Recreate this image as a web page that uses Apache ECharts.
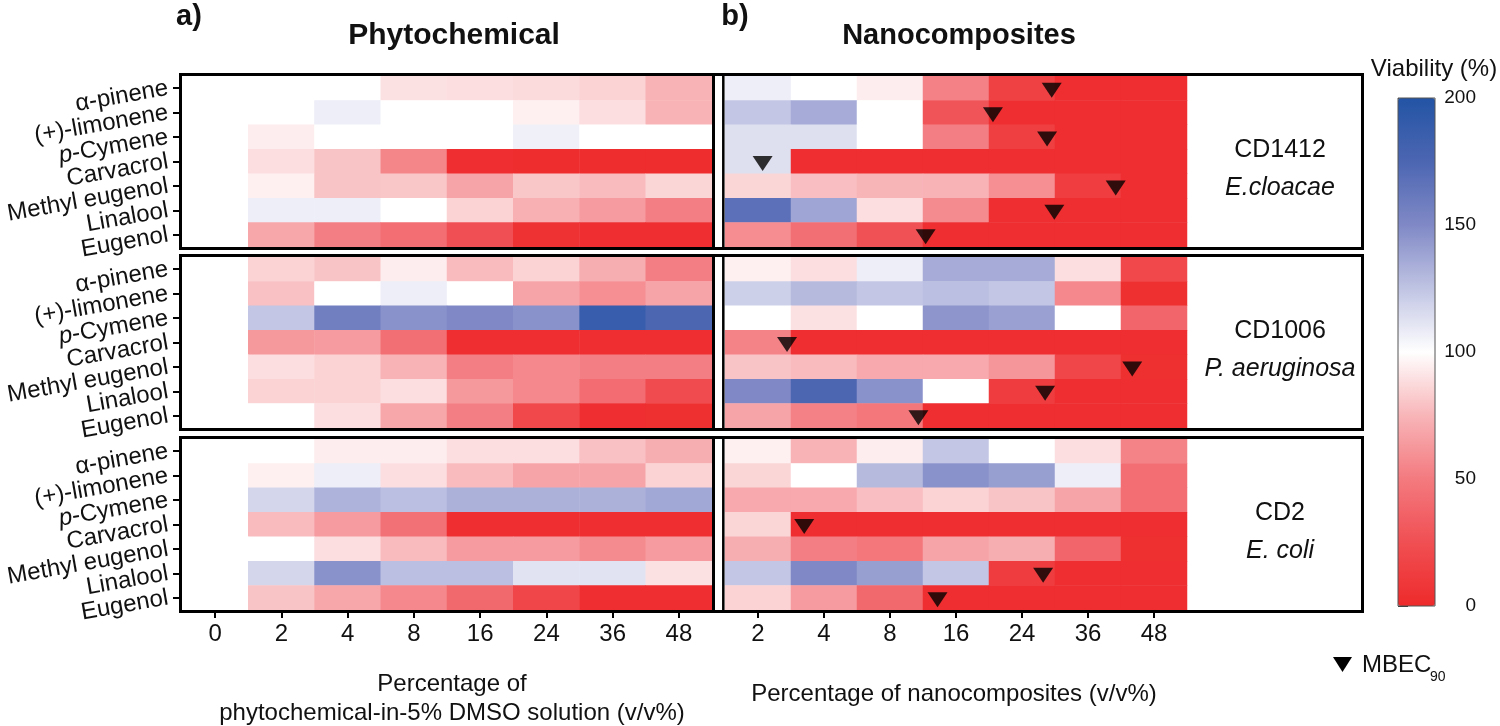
<!DOCTYPE html>
<html>
<head>
<meta charset="utf-8">
<script src="https://cdn.jsdelivr.net/npm/echarts@6/dist/echarts.min.js"></script>
<style>
  html, body { margin: 0; padding: 0; background: #fff; }
  #chart { width: 1500px; height: 726px; }
</style>
</head>
<body>
<div id="chart"></div>
<script>
// ---------------- DATA ----------------
const compounds = ['α-pinene', '(+)-limonene', 'p-Cymene', 'Carvacrol', 'Methyl eugenol', 'Linalool', 'Eugenol'];
const phytoConc = ['0', '2', '4', '8', '16', '24', '36', '48'];
const nanoConc = ['2', '4', '8', '16', '24', '36', '48'];
const viabilityTicks = [0, 50, 100, 150, 200];

// Viability (%) — rows follow `compounds`, columns follow the concentration list
const cd1412Phyto = [
  [100, 100, 100, 90, 89, 88, 85, 74],
  [100, 100, 107, 100, 100, 95, 89, 74],
  [100, 94, 100, 100, 100, 106, 100, 100],
  [100, 89, 80, 55, 3, 2, 2, 2],
  [100, 95, 80, 81, 68, 81, 77, 86],
  [100, 107, 107, 100, 85, 73, 64, 52],
  [100, 69, 52, 43, 25, 5, 3, 3]
];
const cd1412Nano = [
  [107, 100, 94, 53, 15, 3, 3],
  [124, 135, 100, 28, 3, 3, 3],
  [113, 113, 100, 52, 14, 3, 3],
  [113, 3, 3, 3, 3, 3, 3],
  [86, 78, 75, 74, 59, 13, 3],
  [168, 138, 89, 57, 3, 3, 3],
  [58, 44, 26, 3, 3, 3, 3]
];
const cd1006Phyto = [
  [100, 85, 80, 94, 77, 85, 72, 52],
  [100, 79, 100, 107, 100, 68, 59, 68],
  [100, 124, 157, 146, 150, 146, 187, 175],
  [100, 63, 64, 44, 3, 3, 3, 3],
  [100, 89, 85, 74, 52, 56, 52, 52],
  [100, 85, 85, 89, 63, 56, 42, 22],
  [100, 100, 89, 69, 52, 20, 3, 4]
];
const cd1006Nano = [
  [95, 89, 107, 135, 135, 89, 20],
  [120, 129, 124, 127, 124, 56, 4],
  [100, 90, 100, 145, 140, 100, 38],
  [54, 3, 3, 3, 3, 3, 3],
  [80, 77, 70, 70, 62, 19, 4],
  [150, 175, 146, 100, 12, 3, 3],
  [68, 53, 48, 3, 3, 3, 3]
];
const cd2Phyto = [
  [100, 100, 94, 94, 89, 89, 79, 72],
  [100, 95, 107, 89, 77, 68, 68, 85],
  [100, 117, 132, 127, 133, 133, 133, 137],
  [100, 77, 64, 45, 3, 3, 3, 3],
  [100, 100, 89, 77, 64, 64, 57, 64],
  [100, 117, 146, 127, 127, 112, 112, 90],
  [100, 80, 69, 56, 40, 19, 3, 3]
];
const cd2Nano = [
  [95, 74, 94, 124, 100, 89, 54],
  [86, 100, 129, 146, 141, 107, 43],
  [70, 70, 78, 85, 80, 68, 43],
  [86, 3, 3, 3, 3, 3, 3],
  [72, 52, 48, 68, 72, 38, 4],
  [124, 150, 141, 124, 12, 3, 3],
  [85, 64, 40, 3, 3, 3, 3]
];
// MBEC90 marker position along the nanocomposite concentration columns (column units, 0..7)
const cd1412Mbec = [4.95, 4.06, 4.88, 0.57, 5.92, 4.99, 3.04];
const cd1006Mbec = [null, null, null, 0.94, 6.17, 4.85, 2.93];
const cd2Mbec = [null, null, null, 1.2, null, 4.82, 3.22];

const strains = [['CD1412', 'E.cloacae'], ['CD1006', 'P. aeruginosa'], ['CD2', 'E. coli']];

// ---------------- LAYOUT / STYLE ----------------
const FONT = "'Liberation Sans', Arial, Helvetica, sans-serif";
const TXT = '#111';
const boxTops = [76, 257, 439];
const boxH = 171;
const leftX = 182, leftW = 530;
const rightX = 725, rightW = 462;
const boxRight = 1362.5;
const cbar = { x: 1398, y: 98, w: 37, h: 508 };
const cbarLabelRight = 1476;

const panels = [
  { phyto: cd1412Phyto, nano: cd1412Nano, mbec: cd1412Mbec },
  { phyto: cd1006Phyto, nano: cd1006Nano, mbec: cd1006Mbec },
  { phyto: cd2Phyto, nano: cd2Nano, mbec: cd2Mbec }
];

function toCells(m) {
  const out = [];
  m.forEach((row, r) => row.forEach((v, c) => out.push([c, r, v])));
  return out;
}
function toMarks(arr) {
  const out = [];
  arr.forEach((x, r) => { if (x != null) out.push([x, r]); });
  return out;
}

const grid = [], xAxis = [], yAxis = [], series = [], graphic = [];
const yLabel = {
  show: true, rotate: 10, margin: 14,
  formatter: v => v === 'p-Cymene' ? '{i|p}{n|-Cymene}' : '{n|' + v + '}',
  rich: {
    i: { fontStyle: 'italic', fontSize: 24, fontFamily: FONT, color: TXT },
    n: { fontSize: 24, fontFamily: FONT, color: TXT }
  }
};

boxTops.forEach(top => {
  grid.push({ left: leftX, top: top, width: leftW, height: boxH });
  grid.push({ left: rightX, top: top, width: rightW, height: boxH });
});
// colorbar axis grid
grid.push({ left: cbar.x, top: cbar.y, width: cbar.w, height: cbar.h });

const catX = (gi, data, showLabels) => ({
  type: 'category', gridIndex: gi, data: data,
  axisLine: { show: false },
  axisTick: { show: showLabels, alignWithLabel: true, length: 8, inside: false, lineStyle: { color: '#000', width: 2 } },
  axisLabel: { show: showLabels, fontSize: 24, fontFamily: FONT, color: TXT, margin: 12 },
  splitLine: { show: false }
});

for (let b = 0; b < 3; b++) {
  const showX = b === 2;
  xAxis.push(catX(2 * b, phytoConc, showX));
  xAxis.push(catX(2 * b + 1, nanoConc, showX));
  yAxis.push({
    type: 'category', gridIndex: 2 * b, data: compounds, inverse: true,
    axisLine: { show: false },
    axisTick: { show: true, alignWithLabel: true, length: 9, lineStyle: { color: '#000', width: 2 } },
    axisLabel: yLabel, splitLine: { show: false }
  });
  yAxis.push({
    type: 'category', gridIndex: 2 * b + 1, data: compounds, inverse: true,
    axisLine: { show: false }, axisTick: { show: false }, axisLabel: { show: false }, splitLine: { show: false }
  });
}
// value x-axes for MBEC markers on the right grids (indices 6,7,8)
for (let b = 0; b < 3; b++) {
  xAxis.push({ type: 'value', gridIndex: 2 * b + 1, min: 0, max: nanoConc.length, show: false });
}
// colorbar axes (ticks only; labels placed through the axis scale below)
xAxis.push({ type: 'value', gridIndex: 6, show: false, min: 0, max: 1 });
yAxis.push({
  type: 'value', gridIndex: 6, position: 'right', min: viabilityTicks[0], max: viabilityTicks[viabilityTicks.length - 1],
  interval: 50,
  axisLine: { show: false },
  axisTick: { show: true, length: 10, lineStyle: { color: '#333', width: 1 } },
  axisLabel: { show: false },
  splitLine: { show: false }
});

panels.forEach((p, b) => {
  series.push({
    type: 'heatmap', xAxisIndex: 2 * b, yAxisIndex: 2 * b, data: toCells(p.phyto),
    itemStyle: { borderWidth: 0 }, emphasis: { disabled: true }, progressive: 0
  });
  series.push({
    type: 'heatmap', xAxisIndex: 2 * b + 1, yAxisIndex: 2 * b + 1, data: toCells(p.nano),
    itemStyle: { borderWidth: 0 }, emphasis: { disabled: true }, progressive: 0
  });
});
panels.forEach((p, b) => {
  series.push({
    type: 'scatter', xAxisIndex: 6 + b, yAxisIndex: 2 * b + 1, data: toMarks(p.mbec),
    symbol: 'path://M0,0L20,0L10,15Z', symbolSize: [20, 15], symbolOffset: [0, 2],
    itemStyle: { color: '#000' }, z: 5, silent: true
  });
});

// boxes + dividers
boxTops.forEach((top, b) => {
  graphic.push({
    type: 'rect', z: 100, silent: true,
    shape: { x: leftX - 1.5, y: top - 1.5, width: boxRight - (leftX - 1.5), height: boxH + 3 },
    style: { fill: 'none', stroke: '#000', lineWidth: 3 }
  });
  graphic.push({
    type: 'line', z: 100, silent: true,
    shape: { x1: 713.5, y1: top - 1.5, x2: 713.5, y2: top + boxH + 1.5 },
    style: { stroke: '#000', lineWidth: 3 }
  });
  graphic.push({
    type: 'line', z: 100, silent: true,
    shape: { x1: 723.3, y1: top - 1.5, x2: 723.3, y2: top + boxH + 1.5 },
    style: { stroke: '#000', lineWidth: 2.5 }
  });
  const mid = top + boxH / 2;
  graphic.push({ type: 'text', z: 100, x: 1280, y: mid - 11, style: { text: strains[b][0], font: '25px ' + FONT, fill: TXT, align: 'center', verticalAlign: 'middle' } });
  graphic.push({ type: 'text', z: 100, x: 1280, y: mid + 27, style: { text: strains[b][1], font: 'italic 25px ' + FONT, fill: TXT, align: 'center', verticalAlign: 'middle' } });
});
// colorbar border
graphic.push({ type: 'rect', z: 100, silent: true, shape: { x: cbar.x, y: cbar.y, width: cbar.w, height: cbar.h }, style: { fill: 'none', stroke: '#555', lineWidth: 1 } });
// titles
graphic.push({ type: 'text', z: 100, x: 189, y: 17, style: { text: 'a)', font: 'bold 29px ' + FONT, fill: TXT, align: 'center', verticalAlign: 'middle' } });
graphic.push({ type: 'text', z: 100, x: 735, y: 17, style: { text: 'b)', font: 'bold 29px ' + FONT, fill: TXT, align: 'center', verticalAlign: 'middle' } });
graphic.push({ type: 'text', z: 100, x: 454, y: 36, style: { text: 'Phytochemical', font: 'bold 30px ' + FONT, fill: TXT, align: 'center', verticalAlign: 'middle' } });
graphic.push({ type: 'text', z: 100, x: 959, y: 36, style: { text: 'Nanocomposites', font: 'bold 29px ' + FONT, fill: TXT, align: 'center', verticalAlign: 'middle' } });
// axis titles
graphic.push({ type: 'text', z: 100, x: 452, y: 684, style: { text: 'Percentage of', font: '24px ' + FONT, fill: TXT, align: 'center', verticalAlign: 'middle' } });
graphic.push({ type: 'text', z: 100, x: 452, y: 713, style: { text: 'phytochemical-in-5% DMSO solution (v/v%)', font: '24px ' + FONT, fill: TXT, align: 'center', verticalAlign: 'middle' } });
graphic.push({ type: 'text', z: 100, x: 954, y: 694, style: { text: 'Percentage of nanocomposites (v/v%)', font: '24px ' + FONT, fill: TXT, align: 'center', verticalAlign: 'middle' } });
// colorbar title
graphic.push({ type: 'text', z: 100, x: 1434, y: 69, style: { text: 'Viability (%)', font: '24px ' + FONT, fill: TXT, align: 'center', verticalAlign: 'middle' } });
// MBEC legend
graphic.push({ type: 'polygon', z: 100, silent: true, shape: { points: [[1333, 657], [1352, 657], [1342.5, 672]] }, style: { fill: '#000' } });
graphic.push({ type: 'text', z: 100, x: 1362, y: 665, style: { text: 'MBEC', font: '24px ' + FONT, fill: TXT, align: 'left', verticalAlign: 'middle' } });
graphic.push({ type: 'text', z: 100, x: 1430, y: 677, style: { text: '90', font: '14px ' + FONT, fill: TXT, align: 'left', verticalAlign: 'middle' } });

const option = {
  animation: false,
  backgroundColor: '#fff',
  grid: grid,
  xAxis: xAxis,
  yAxis: yAxis,
  visualMap: {
    type: 'continuous', min: 0, max: 200, dimension: 2,
    seriesIndex: [0, 1, 2, 3, 4, 5],
    calculable: false, hoverLink: false, realtime: false,
    orient: 'vertical', left: cbar.x, top: cbar.y, itemWidth: cbar.w, itemHeight: cbar.h,
    padding: 0, text: null, showLabel: false,
    inRange: { color: ['#EE2A2B', '#F04F53', '#F37A7F', '#F8B5B8', '#FFFFFF', '#C0C4E3', '#8089C6', '#4C66B2', '#2354A5'] }
  },
  series: series,
  graphic: graphic
};

const chart = echarts.init(document.getElementById('chart'), null, { renderer: 'canvas' });
chart.setOption(option);

// colorbar tick labels, positioned through the colorbar axis scale
const cbLabels = viabilityTicks.map(v => ({
  type: 'text', z: 100, silent: true,
  x: cbarLabelRight,
  y: chart.convertToPixel({ yAxisIndex: 6 }, v),
  style: { text: String(v), font: '19px ' + FONT, fill: TXT, align: 'right', verticalAlign: 'middle' }
}));
chart.setOption({ graphic: graphic.concat(cbLabels) });
</script>
</body>
</html>
